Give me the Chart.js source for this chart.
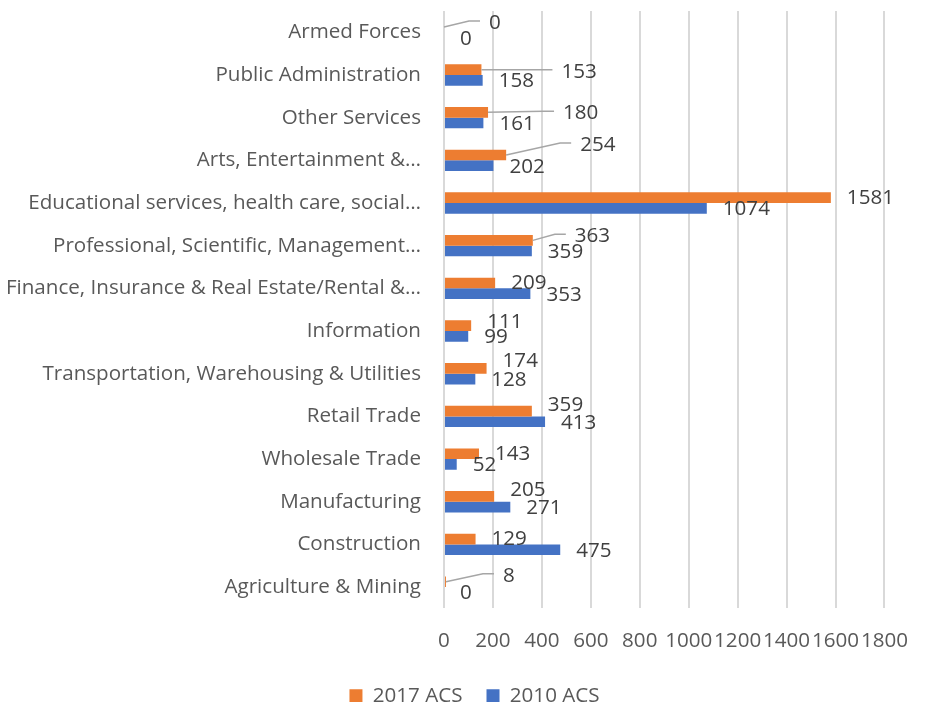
<!DOCTYPE html>
<html>
<head>
<meta charset="utf-8">
<script src="https://cdn.jsdelivr.net/npm/chart.js@4/dist/chart.umd.min.js"></script>
<style>
html, body { margin: 0; padding: 0; background: #fff; }
#wrap { width: 928px; height: 702px; }
</style>
</head>
<body>
<div id="wrap"><canvas id="bar-chart"></canvas></div>
<script>
// industries, top to bottom
const industries = [
    "Armed Forces",
    "Public Administration",
    "Other Services",
    "Arts, Entertainment &…",
    "Educational services, health care, social…",
    "Professional, Scientific, Management…",
    "Finance, Insurance & Real Estate/Rental &…",
    "Information",
    "Transportation, Warehousing & Utilities",
    "Retail Trade",
    "Wholesale Trade",
    "Manufacturing",
    "Construction",
    "Agriculture & Mining"
];
const acs2017 = [0, 153, 180, 254, 1581, 363, 209, 111, 174, 359, 143, 205, 129, 8];
const acs2010 = [0, 158, 161, 202, 1074, 359, 353, 99, 128, 413, 52, 271, 475, 0];
const xTicks = [0, 200, 400, 600, 800, 1000, 1200, 1400, 1600, 1800];

// the 2017 labels were dragged around by hand in the original, nudge them the same (px)
const nudge2017X = [29, 64, 59, 58, 0, 26, 0, 0, 0, 0, 0, 0, 0, 41];
const nudge2017Y = [-4, 2, 1, -10, 0, -4, 0, -4, -7, -6, 0, -6, 0, -6];
const leader2017 = [1, 1, 1, 1, 0, 1, 0, 0, 0, 0, 0, 0, 0, 1];

const FONT = "'Open Sans', 'Noto Sans', sans-serif";
const FSIZE = 20.6;

const valueLabels = {
    id: 'valueLabels',
    afterInit(chart) {
        // pull the legend down closer to the bottom edge
        let lg = chart.legend;
        let fit = lg.fit;
        lg.fit = function () {
            fit.call(this);
            this.height -= 14;
        };
    },
    afterLayout(chart) {
        // legend sits a bit right of centre in the original
        chart.legend.left += 31;
        chart.legend.right += 31;
    },
    afterDatasetsDraw(chart) {
        let ctx = chart.ctx;
        ctx.save();
        ctx.font = FSIZE + "px " + FONT;
        ctx.textBaseline = 'middle';
        ctx.textAlign = 'left';
        chart.data.datasets.forEach((ds, d) => {
            let meta = chart.getDatasetMeta(d);
            meta.data.forEach((bar, i) => {
                let dx = 0, dy = 1, lead = 0;
                if (d === 0) {
                    dx = nudge2017X[i];
                    dy = nudge2017Y[i];
                    lead = leader2017[i];
                }
                let x = bar.x + 16 + dx;
                let y = bar.y + dy;
                if (lead) {
                    ctx.strokeStyle = '#A6A6A6';
                    ctx.lineWidth = 1.5;
                    ctx.beginPath();
                    ctx.moveTo(bar.x, bar.y);
                    ctx.lineTo(x - 20, y - 2);
                    ctx.lineTo(x - 9, y - 2);
                    ctx.stroke();
                }
                ctx.fillStyle = '#404040';
                ctx.fillText(String(ds.data[i]), x, y);
            });
        });
        ctx.restore();
    }
};

new Chart(document.getElementById("bar-chart"), {
    type: 'bar',
    data: {
        labels: industries,
        datasets: [{
            label: "2017 ACS",
            data: acs2017,
            backgroundColor: "#ED7D31",
            borderWidth: 0
        }, {
            label: "2010 ACS",
            data: acs2010,
            backgroundColor: "#4472C4",
            borderWidth: 0
        }]
    },
    options: {
        indexAxis: 'y',
        responsive: true,
        maintainAspectRatio: false,
        animation: false,
        categoryPercentage: 0.5,
        barPercentage: 1.0,
        layout: { padding: { top: 11, right: 41, bottom: 0, left: 0 } },
        scales: {
            x: {
                min: 0,
                max: 1800,
                afterBuildTicks: (scale) => { scale.ticks = xTicks.map(v => ({ value: v })); },
                afterFit: (scale) => { scale.height = 53; },
                grid: { color: '#D9D9D9', lineWidth: 2, drawTicks: false },
                border: { display: false },
                ticks: {
                    autoSkip: false,
                    maxRotation: 0,
                    padding: 20,
                    color: '#595959',
                    font: { family: FONT, size: FSIZE },
                    callback: (v) => String(v)
                }
            },
            y: {
                afterFit: (scale) => {
                    scale.width = 444;
                    scale.paddingTop = 0;
                    scale.paddingBottom = 0;
                },
                grid: { display: false, drawTicks: false },
                border: { display: false },
                ticks: {
                    autoSkip: false,
                    padding: 23,
                    color: '#595959',
                    font: { family: FONT, size: FSIZE }
                }
            }
        },
        plugins: {
            legend: {
                position: 'bottom',
                labels: {
                    boxWidth: 13,
                    boxHeight: 13,
                    padding: 24,
                    color: '#595959',
                    font: { family: FONT, size: FSIZE }
                }
            },
            tooltip: { enabled: false }
        }
    },
    plugins: [valueLabels]
});
</script>
</body>
</html>
